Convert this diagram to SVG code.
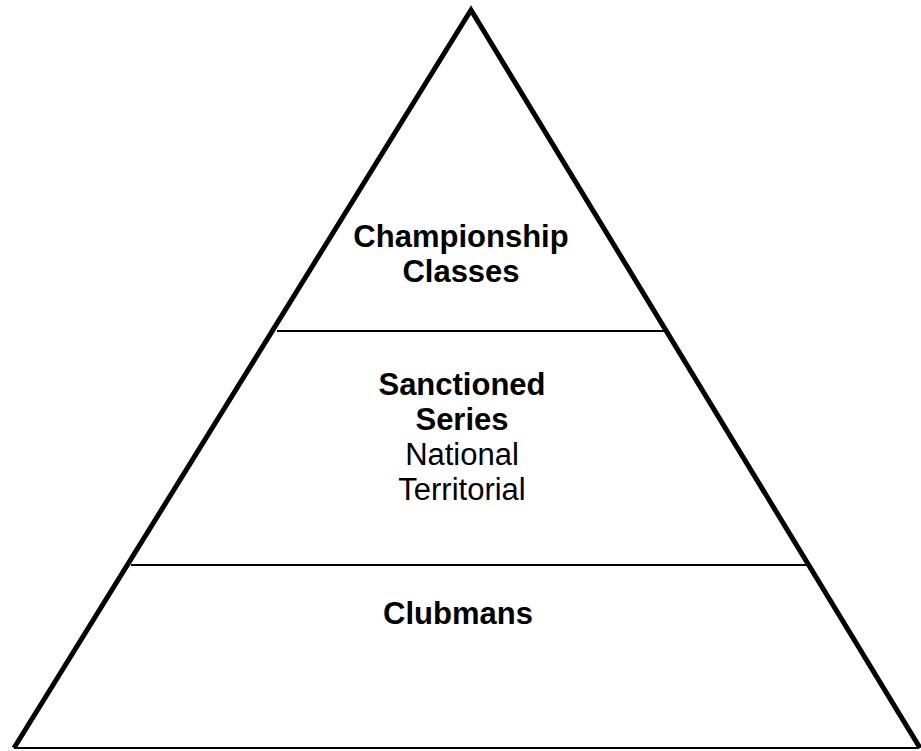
<svg xmlns="http://www.w3.org/2000/svg" width="921" height="751" viewBox="0 0 921 751">
<style>
.edge{fill:none;stroke:#000;stroke-width:5;stroke-linejoin:miter;stroke-miterlimit:20}
.div{stroke:#000;stroke-width:2;fill:none}
.t{font-family:"Liberation Sans",Arial,sans-serif;font-size:31px;fill:#000;text-anchor:middle}
.b{font-weight:bold}
</style>
<rect width="921" height="751" fill="#fff"/>
<g id="connectors">
<line class="div" x1="14" y1="748" x2="918" y2="748"/>
<line class="div" x1="277" y1="331" x2="666" y2="331"/>
<line class="div" x1="131" y1="565" x2="810" y2="565"/>
<polyline class="edge" points="14,748 471,10 920,748"/>
</g>
<g id="championship">
<text class="t b" x="461" y="247">Championship</text>
<text class="t b" x="461" y="282">Classes</text>
</g>
<g id="sanctioned">
<text class="t b" x="462" y="395">Sanctioned</text>
<text class="t b" x="462" y="430">Series</text>
<text class="t" x="462" y="465">National</text>
<text class="t" x="462" y="500">Territorial</text>
</g>
<g id="clubmans">
<text class="t b" x="458" y="624">Clubmans</text>
</g>
</svg>
